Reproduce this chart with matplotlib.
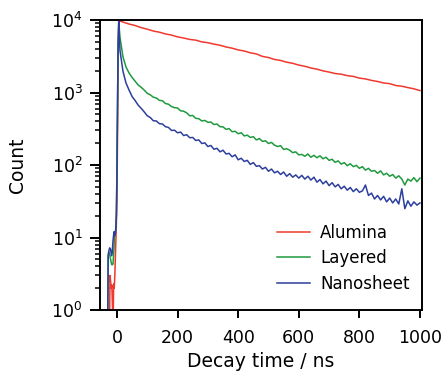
import numpy as np
import matplotlib
matplotlib.use("Agg")
import matplotlib.pyplot as plt

# ---------------- data ----------------
# rise / pre-pulse region (ns, counts)
rise_t_blue = [-31, -29, -27, -24, -21, -18, -16, -13, -10, -8, -6, -4, -2, 0, 2, 4, 6, 8]
rise_blue = [0.3, 5.5, 6.5, 7.2, 6.8, 5.6, 6.0, 9.0, 12.0, 10.5, 11.0, 13.0, 20, 80, 800, 5000, 9700, 5600]

rise_t_green = [-31, -29, -27, -24, -21, -18, -16, -13, -10, -8, -6, -4, -2, 0, 2, 4, 6, 8]
rise_green = [0.3, 5.5, 6.3, 5.8, 5.0, 4.3, 4.2, 4.3, 7.0, 11.0, 11.0, 13.0, 20, 80, 800, 5000, 9600, 7300]

rise_t_red = [-25, -23, -21, -19, -17, -15, -13, -11, -9, -7, -4, -2, 0, 2, 4, 6]
rise_red = [0.3, 3.0, 2.5, 2.0, 2.2, 1.2, 0.5, 2.3, 2.0, 3.0, 8.0, 15, 35, 300, 3000, 9800]

# decay region, 10 ns steps
decay_t = list(range(10, 1001, 10))
green_counts = [5750, 3090, 2240, 1860, 1610, 1430, 1270, 1180, 1080, 975,
                930, 862, 840, 780, 770, 705, 690, 640, 618, 612,
                560, 552, 525, 478, 482, 440, 436, 405, 412, 388,
                392, 362, 368, 338, 336, 310, 318, 288, 292, 270,
                279, 252, 258, 240, 246, 222, 232, 212, 216, 198,
                205, 188, 180, 185, 164, 168, 160, 148, 152, 138,
                140, 132, 142, 128, 136, 126, 134, 122, 128, 116,
                120, 109, 114, 103, 108, 98, 104, 95, 99, 90,
                95, 85, 90, 82, 84, 77, 83, 73, 77, 70,
                74, 66, 71, 64, 53, 64, 60, 67, 59, 66]
blue_counts = [3800, 1950, 1350, 1080, 880, 775, 670, 605, 540, 478,
               452, 408, 405, 372, 368, 338, 330, 300, 302, 278,
               285, 255, 262, 238, 240, 218, 222, 198, 202, 180,
               186, 165, 170, 152, 160, 142, 145, 130, 138, 118,
               124, 112, 116, 102, 108, 96, 98, 88, 93, 82,
               88, 78, 82, 74, 80, 70, 76, 68, 73, 66,
               72, 64, 70, 62, 68, 58, 63, 55, 60, 52,
               57, 50, 54, 47, 51, 45, 49, 43, 47, 42,
               44, 53, 38, 41, 34, 38, 33, 37, 31, 35,
               30, 34, 29, 47, 25, 32, 27, 31, 28, 30]

# alumina decay, 20 ns steps
red_t = list(range(20, 1001, 20))
red_counts = [9380, 8800, 8400, 7850, 7480, 7050, 6800, 6430, 6200, 5860,
              5650, 5400, 5280, 4990, 4870, 4650, 4490, 4250, 4090, 3870,
              3740, 3530, 3410, 3150, 3040, 2860, 2770, 2620, 2530, 2390,
              2300, 2180, 2100, 1990, 1915, 1830, 1790, 1710, 1670, 1580,
              1540, 1470, 1420, 1355, 1325, 1250, 1222, 1170, 1125, 1065]

labels = ["Alumina", "Layered", "Nanosheet"]
colors = ["#f0392e", "#1f9a3e", "#2c3f9d"]

# ---------------- plot ----------------
plt.rcParams["font.family"] = ["DejaVu Sans"]
fig = plt.figure(figsize=(4.45, 3.71), dpi=100)
ax = fig.add_axes([0.2247, 0.1644, 0.7225, 0.7816])

lw = 1.1
ax.plot(rise_t_red + red_t, rise_red + red_counts, color=colors[0], lw=lw, label=labels[0])
ax.plot(rise_t_green + decay_t, rise_green + green_counts, color=colors[1], lw=lw, label=labels[1])
ax.plot(rise_t_blue + decay_t, rise_blue + blue_counts, color=colors[2], lw=lw, label=labels[2])

ax.set_yscale("log")
ax.set_ylim(1, 1e4)
ax.set_xlim(-56, 1005)
ax.set_xticks([0, 200, 400, 600, 800, 1000])
ax.set_yticks([1, 10, 100, 1000, 10000])
ax.set_yticklabels([r"$10^0$", r"$10^1$", r"$10^2$", r"$10^3$", r"$10^4$"])

for s in ax.spines.values():
    s.set_linewidth(1.4)

ax.tick_params(axis="both", which="major", direction="out", width=1.4, labelsize=12.5, color="black")
ax.tick_params(axis="x", which="major", length=5.5, pad=8)
ax.tick_params(axis="y", which="major", length=7, pad=5.5)
ax.tick_params(axis="y", which="minor", direction="out", length=3.8, width=1.1)
ax.tick_params(axis="x", which="minor", bottom=False)

ax.set_xlabel("Decay time / ns", fontsize=13.5, labelpad=4)
ax.set_ylabel("Count", fontsize=13.5)
ax.yaxis.set_label_coords(-0.228, 0.5)

ax.legend(loc="lower right", bbox_to_anchor=(1.0, 0.02), frameon=False, fontsize=12,
          handlelength=2.0, handletextpad=0.6, labelspacing=0.45, borderaxespad=0.3)

fig.savefig("out.png", dpi=100)
